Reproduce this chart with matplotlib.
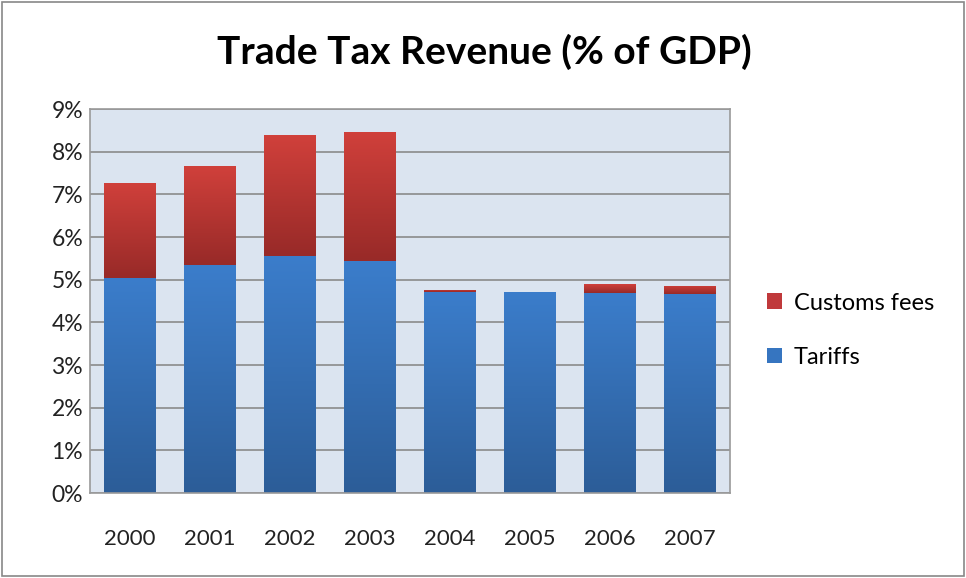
import numpy as np
import matplotlib
matplotlib.use("Agg")
import matplotlib.pyplot as plt
from matplotlib.patches import Rectangle
from matplotlib.colors import LinearSegmentedColormap

plt.rcParams['font.family'] = ['Lato', 'DejaVu Sans']

years = ['2000', '2001', '2002', '2003', '2004', '2005', '2006', '2007']
tariffs = [5.04, 5.35, 5.56, 5.43, 4.70, 4.72, 4.69, 4.66]
customs = [2.23, 2.31, 2.82, 3.04, 0.05, 0.00, 0.21, 0.19]

fig = plt.figure(figsize=(9.66, 5.78), dpi=100)
ax = fig.add_axes([90/966, 85/578, 640/966, 384/578])
ax.set_facecolor('#dbe4f0')

x = np.arange(len(years))
w = 0.64
blue_cm = LinearSegmentedColormap.from_list('b', ['#2c5d98', '#3b7dcb'])
red_cm = LinearSegmentedColormap.from_list('r', ['#982a28', '#d0403b'])
grad = np.linspace(0, 1, 100).reshape(-1, 1)

b1 = ax.bar(x, tariffs, w, color='#3675c0', zorder=2)
b2 = ax.bar(x, customs, w, bottom=tariffs, color='#c0393b', zorder=2)

# vertical gradient fill for each bar segment
for bars, cm in ((b1, blue_cm), (b2, red_cm)):
    for p in bars:
        h = p.get_height()
        if h <= 0:
            continue
        x0, y0 = p.get_x(), p.get_y()
        im = ax.imshow(grad, cmap=cm, origin='lower', aspect='auto',
                       extent=[x0, x0 + p.get_width(), y0, y0 + h], zorder=2.5)
        im.set_clip_path(p)

ax.set_xlim(-0.5, len(years) - 0.5)
ax.set_ylim(0, 9)
ax.set_yticks(range(0, 10))
ax.set_yticklabels([f'{i}%' for i in range(0, 10)], fontsize=16.5, color='#222222')
ax.set_xticks(x)
ax.set_xticklabels(years, fontsize=16, color='#222222')
ax.tick_params(length=0)
ax.tick_params(axis='y', pad=5)
ax.tick_params(axis='x', pad=26)
ax.grid(axis='y', color='#8a8a8a', linewidth=1.2, zorder=1)
for s in ax.spines.values():
    s.set_color('#9a9a9a')
    s.set_linewidth(1.2)

fig.text(484/966, 1 - 52/578, 'Trade Tax Revenue (% of GDP)', fontsize=28,
         fontweight='bold', ha='center', va='center')

leg = ax.legend([b2, b1], ['Customs fees', 'Tariffs'], loc='center left',
                bbox_to_anchor=(1.024, 0.424), frameon=False, fontsize=17,
                handlelength=0.65, handleheight=0.65, labelspacing=1.4,
                handletextpad=0.5)

fig.patches.append(Rectangle((0.002, 0.003), 0.996, 0.994, transform=fig.transFigure,
                             fill=False, edgecolor='#888888', linewidth=1.2))

fig.savefig('out.png', dpi=100)
